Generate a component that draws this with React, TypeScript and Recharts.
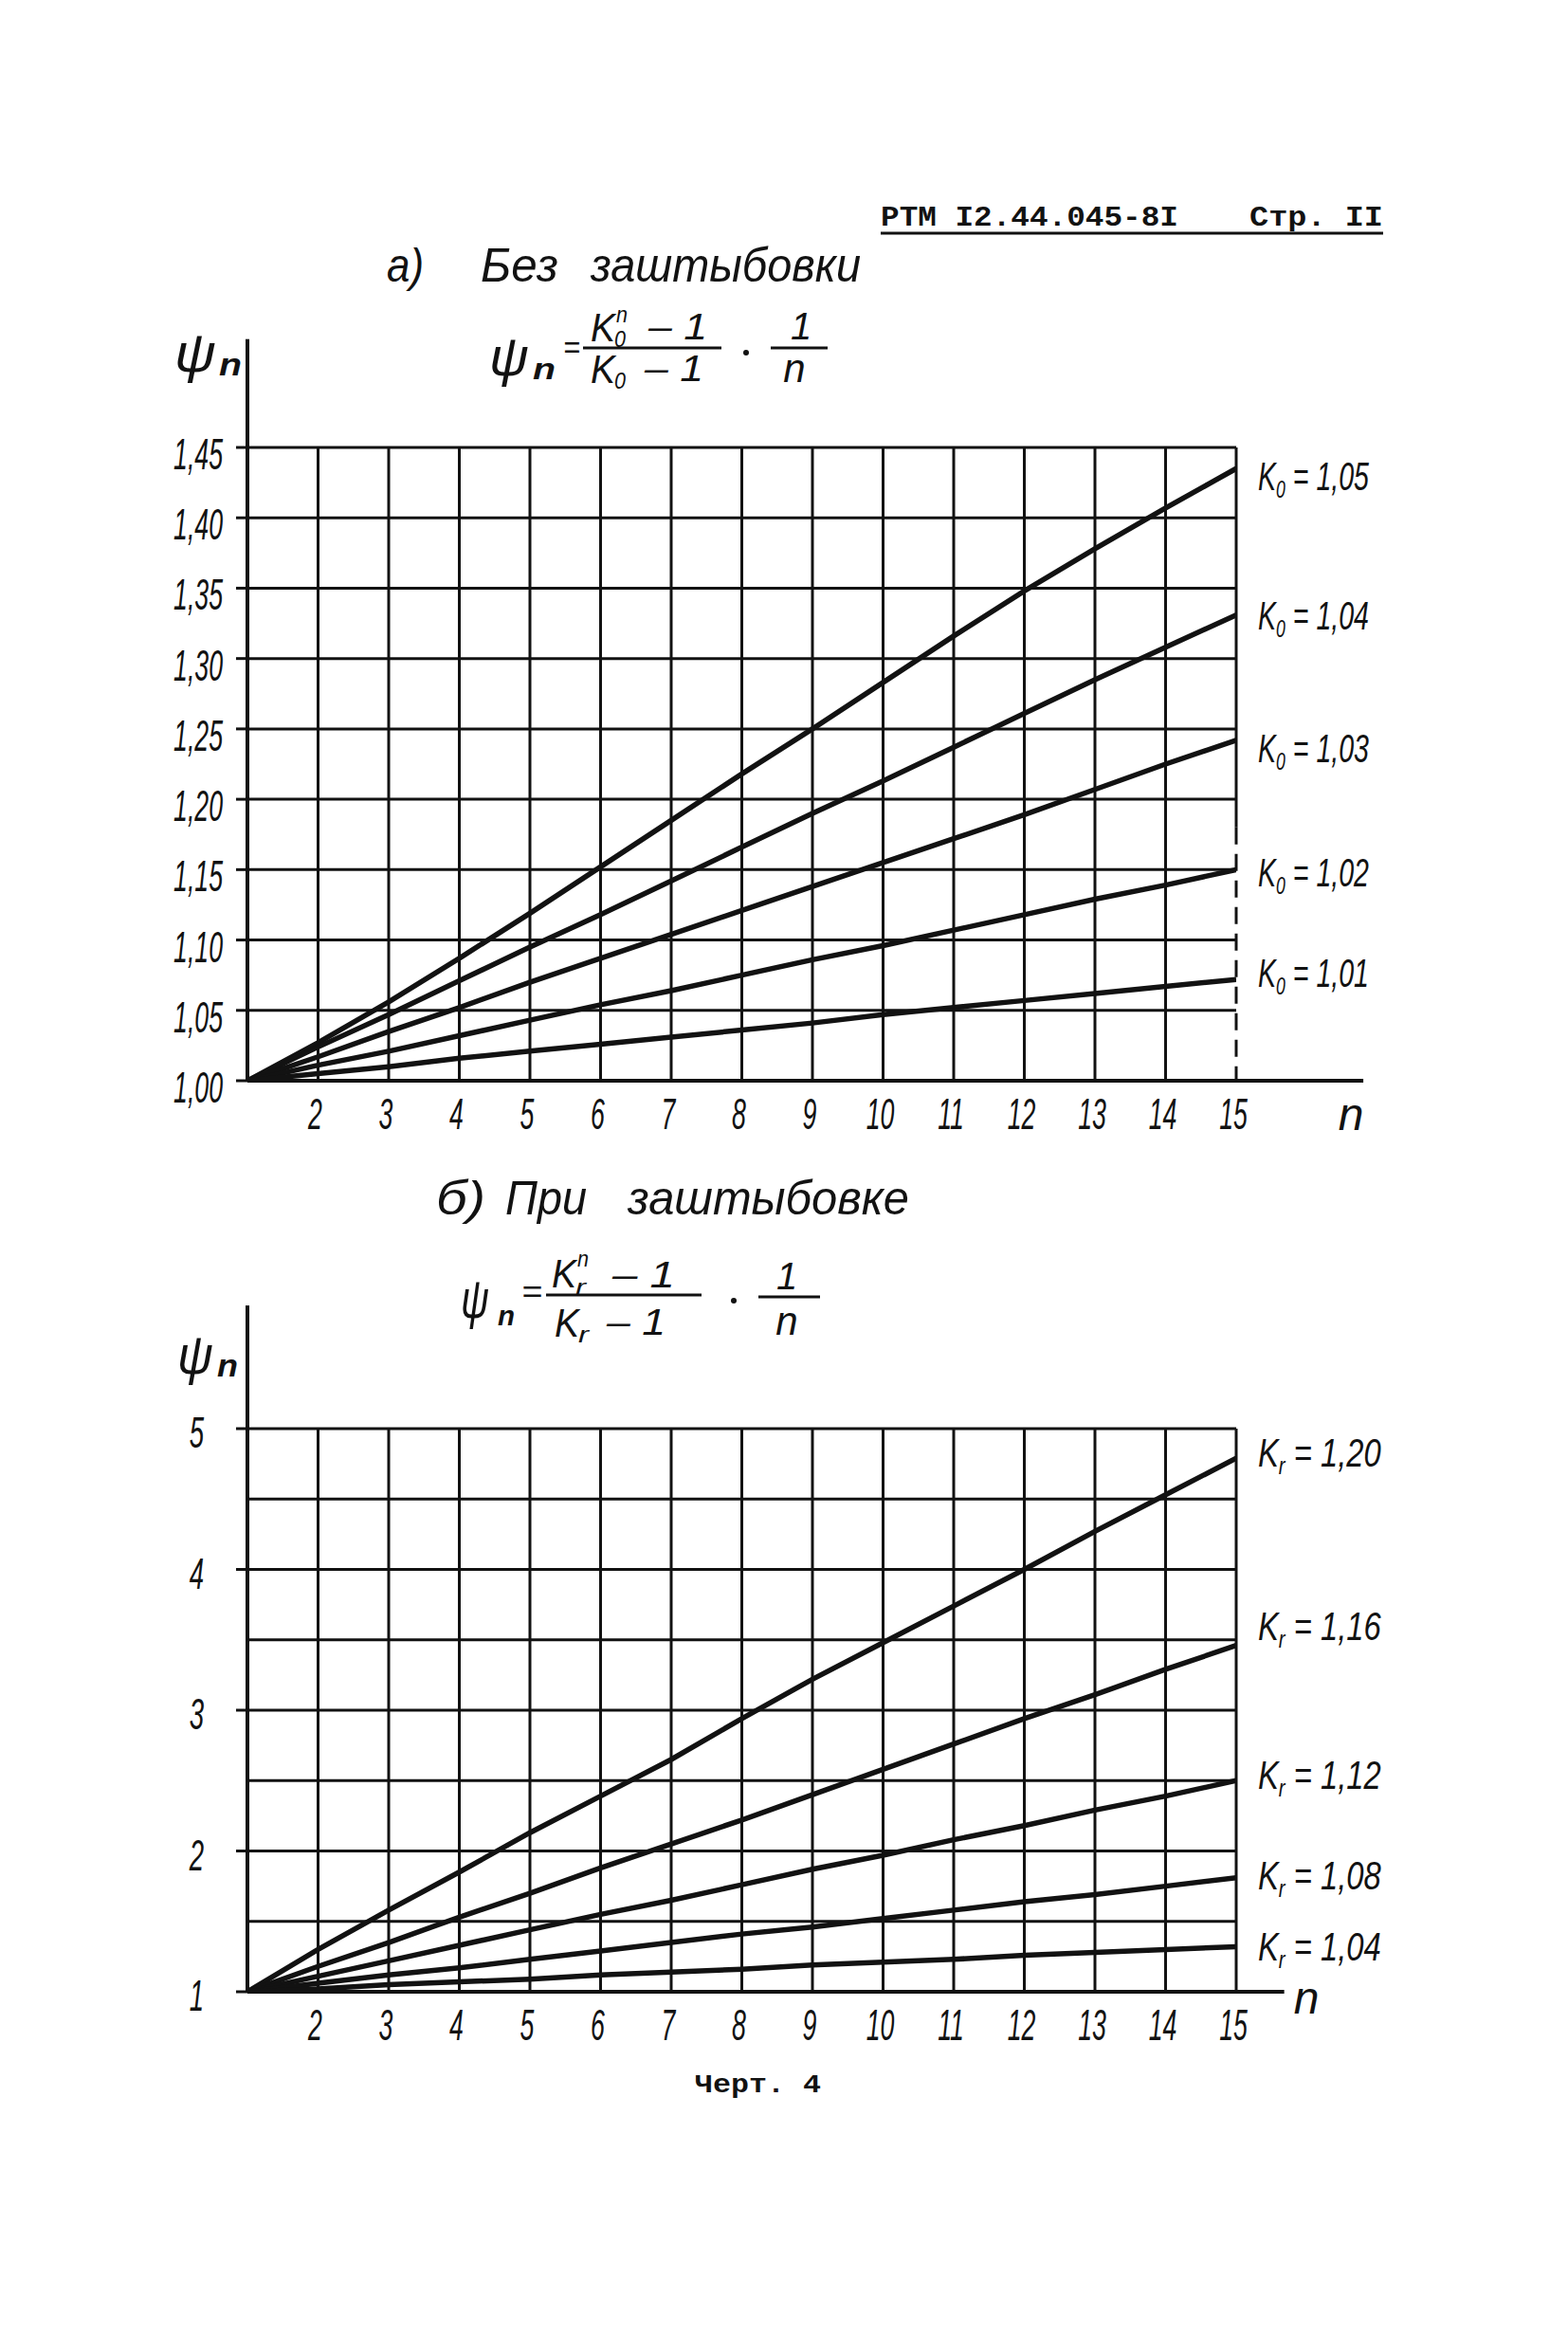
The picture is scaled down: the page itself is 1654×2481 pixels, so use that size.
import React from "react";
import { LineChart, Line, XAxis, YAxis, CartesianGrid, ReferenceLine, LabelList } from "recharts";

const INK = "#121212";
const HAND = "'Liberation Sans', Arimo, 'DejaVu Sans', sans-serif";
const TYPE = "'Liberation Mono', 'DejaVu Sans Mono', monospace";

// n = number of stages
const nValues = [1, 2, 3, 4, 5, 6, 7, 8, 9, 10, 11, 12, 13, 14, 15];
const xTicks = [2, 3, 4, 5, 6, 7, 8, 9, 10, 11, 12, 13, 14, 15];

// a) without stowing, psi_n
const yTicksTop = [1.0, 1.05, 1.1, 1.15, 1.2, 1.25, 1.3, 1.35, 1.4, 1.45];
const psiK0_105 = [1.0, 1.027, 1.056, 1.087, 1.119, 1.152, 1.185, 1.218, 1.25, 1.283, 1.316, 1.348, 1.378, 1.407, 1.435];
const psiK0_104 = [1.0, 1.024, 1.047, 1.071, 1.095, 1.118, 1.142, 1.166, 1.19, 1.213, 1.237, 1.261, 1.285, 1.308, 1.331];
const psiK0_103 = [1.0, 1.017, 1.035, 1.052, 1.07, 1.087, 1.104, 1.121, 1.138, 1.155, 1.172, 1.189, 1.207, 1.225, 1.242];
const psiK0_102 = [1.0, 1.011, 1.021, 1.032, 1.043, 1.054, 1.064, 1.075, 1.086, 1.096, 1.107, 1.118, 1.129, 1.139, 1.15];
const psiK0_101 = [1.0, 1.005, 1.01, 1.016, 1.021, 1.026, 1.031, 1.036, 1.041, 1.047, 1.052, 1.057, 1.062, 1.067, 1.072];

// б) with stowing
const yTicksBottom = [1, 1.5, 2, 2.5, 3, 3.5, 4, 4.5, 5];
const yLabelsBottom = [1, 2, 3, 4, 5];
const psiKr_120 = [1.0, 1.3, 1.58, 1.85, 2.13, 2.39, 2.65, 2.94, 3.22, 3.48, 3.74, 4.0, 4.27, 4.53, 4.79];
const psiKr_116 = [1.0, 1.18, 1.35, 1.53, 1.7, 1.88, 2.05, 2.22, 2.4, 2.58, 2.76, 2.94, 3.11, 3.29, 3.46];
const psiKr_112 = [1.0, 1.11, 1.22, 1.33, 1.44, 1.55, 1.65, 1.76, 1.87, 1.97, 2.08, 2.18, 2.29, 2.39, 2.5];
const psiKr_108 = [1.0, 1.06, 1.12, 1.17, 1.23, 1.29, 1.35, 1.41, 1.46, 1.52, 1.58, 1.64, 1.69, 1.75, 1.81];
const psiKr_104 = [1.0, 1.02, 1.05, 1.07, 1.09, 1.12, 1.14, 1.16, 1.19, 1.21, 1.23, 1.26, 1.28, 1.3, 1.32];

const topRows = nValues.map((n, i) => ({
  n,
  k105: psiK0_105[i],
  k104: psiK0_104[i],
  k103: psiK0_103[i],
  k102: psiK0_102[i],
  k101: psiK0_101[i],
}));

const bottomRows = nValues.map((n, i) => ({
  n,
  k120: psiKr_120[i],
  k116: psiKr_116[i],
  k112: psiKr_112[i],
  k108: psiKr_108[i],
  k104: psiKr_104[i],
}));

const topSeries = [
  { key: "k105", text: "1,05", dy: 8 },
  { key: "k104", text: "1,04", dy: 0 },
  { key: "k103", text: "1,03", dy: 8 },
  { key: "k102", text: "1,02", dy: 3 },
  { key: "k101", text: "1,01", dy: -7 },
];

const bottomSeries = [
  { key: "k120", text: "1,20", dy: -6 },
  { key: "k116", text: "1,16", dy: -21 },
  { key: "k112", text: "1,12", dy: -6 },
  { key: "k108", text: "1,08", dy: -3 },
  { key: "k104", text: "1,04", dy: 0 },
];

function XTick(props: any) {
  const { x, y, payload } = props;
  return (
    <g transform={`translate(${x - 3},${y + 51}) scale(0.58,1)`}>
      <text textAnchor="middle" fontSize={46} fontStyle="italic" fontFamily={HAND} fill={INK}>
        {payload.value}
      </text>
    </g>
  );
}

function YTickTop(props: any) {
  const { x, y, payload } = props;
  const label = Number(payload.value).toFixed(2).replace(".", ",");
  return (
    <g>
      <line x1={x - 12} x2={x} y1={y} y2={y} stroke={INK} strokeWidth={3} />
      <g transform={`translate(${x - 26},${y + 23}) scale(0.58,1)`}>
        <text textAnchor="end" fontSize={46} fontStyle="italic" fontFamily={HAND} fill={INK}>
          {label}
        </text>
      </g>
    </g>
  );
}

function YTickBottom(props: any) {
  const { x, y, payload } = props;
  if (!yLabelsBottom.includes(payload.value)) return null;
  return (
    <g>
      <line x1={x - 12} x2={x} y1={y} y2={y} stroke={INK} strokeWidth={3} />
      <g transform={`translate(${x - 46},${y + 20}) scale(0.6,1)`}>
        <text textAnchor="end" fontSize={46} fontStyle="italic" fontFamily={HAND} fill={INK}>
          {payload.value}
        </text>
      </g>
    </g>
  );
}

function seriesLabel(sub: string, text: string, dy: number, sx: number) {
  return (props: any) => {
    if (props.index !== nValues.length - 1) return null;
    const x = props.x ?? props.viewBox?.x;
    const y = props.y ?? props.viewBox?.y;
    return (
      <g transform={`translate(${x + 23},${y + dy + 15}) scale(${sx},1)`}>
        <text fontSize={42} fontStyle="italic" fontFamily={HAND} fill={INK}>
          K
          <tspan fontSize={26} dy={8}>{sub}</tspan>
          <tspan dy={-8}>{" = " + text}</tspan>
        </text>
      </g>
    );
  };
}

function T(props: any) {
  const { x, y, size, children, anchor, weight, len, family } = props;
  return (
    <text
      x={x}
      y={y}
      fontSize={size}
      fontStyle={family ? "normal" : "italic"}
      fontWeight={weight || "normal"}
      fontFamily={family || HAND}
      textAnchor={anchor || "start"}
      textLength={len}
      lengthAdjust={len ? "spacingAndGlyphs" : undefined}
      fill={INK}
    >
      {children}
    </text>
  );
}

function Overlay() {
  return (
    <svg
      width={1654}
      height={2481}
      style={{ position: "absolute", left: 0, top: 0, pointerEvents: "none" }}
    >
      {/* header */}
      <T x={929} y={238} size={30} weight="bold" family={TYPE} len={314}>РТМ I2.44.045-8I</T>
      <T x={1318} y={238} size={30} weight="bold" family={TYPE} len={141}>Стр. II</T>
      <line x1={929} x2={1459} y1={246} y2={246} stroke={INK} strokeWidth={3} />

      {/* title a */}
      <T x={408} y={297} size={50} len={39}>а)</T>
      <T x={507} y={297} size={50} len={82}>Без</T>
      <T x={623} y={297} size={50} len={285}>заштыбовки</T>

      {/* formula a */}
      <T x={516} y={396} size={58} len={42}>ψ</T>
      <T x={562} y={400} size={32} weight="bold" len={24}>n</T>
      <T x={594} y={378} size={34} len={18}>=</T>
      <T x={623} y={360} size={42} len={26}>K</T>
      <T x={648} y={366} size={24} len={12}>0</T>
      <T x={650} y={340} size={24} len={12}>n</T>
      <T x={684} y={358} size={38} len={62}>– 1</T>
      <line x1={615} x2={761} y1={367} y2={367} stroke={INK} strokeWidth={3} />
      <T x={623} y={404} size={42} len={26}>K</T>
      <T x={648} y={410} size={24} len={12}>0</T>
      <T x={680} y={402} size={38} len={62}>– 1</T>
      <circle cx={787} cy={372} r={3} fill={INK} />
      <T x={845} y={358} size={40} anchor="middle">1</T>
      <line x1={813} x2={873} y1={367} y2={367} stroke={INK} strokeWidth={3} />
      <T x={838} y={403} size={42} anchor="middle">n</T>

      {/* psi axis label a */}
      <T x={184} y={392} size={58} len={44}>ψ</T>
      <T x={231} y={396} size={34} weight="bold" len={24}>n</T>
      <T x={1425} y={1192} size={48} anchor="middle">n</T>

      {/* title b */}
      <T x={460} y={1281} size={50} len={52}>б)</T>
      <T x={533} y={1281} size={50} len={86}>При</T>
      <T x={662} y={1281} size={50} len={297}>заштыбовке</T>

      {/* formula b */}
      <T x={486} y={1390} size={58} len={30}>ψ</T>
      <T x={525} y={1398} size={30} weight="bold" len={18}>n</T>
      <T x={550} y={1374} size={34} len={22}>=</T>
      <T x={582} y={1358} size={42} len={26}>K</T>
      <T x={607} y={1366} size={24} len={11}>r</T>
      <T x={609} y={1336} size={24} len={12}>n</T>
      <T x={646} y={1358} size={38} len={66}>– 1</T>
      <line x1={576} x2={740} y1={1366} y2={1366} stroke={INK} strokeWidth={3} />
      <T x={585} y={1410} size={42} len={26}>K</T>
      <T x={610} y={1416} size={24} len={11}>r</T>
      <T x={640} y={1408} size={38} len={62}>– 1</T>
      <circle cx={774} cy={1372} r={3} fill={INK} />
      <T x={830} y={1360} size={40} anchor="middle">1</T>
      <line x1={800} x2={865} y1={1368} y2={1368} stroke={INK} strokeWidth={3} />
      <T x={830} y={1408} size={42} anchor="middle">n</T>

      {/* psi axis label b */}
      <T x={187} y={1449} size={58} len={38}>ψ</T>
      <T x={229} y={1452} size={34} weight="bold" len={22}>n</T>
      <T x={1378} y={2124} size={48} anchor="middle">n</T>

      <T x={733} y={2207} size={28} weight="bold" family={TYPE} len={133}>Черт. 4</T>
    </svg>
  );
}

function TopChart() {
  return (
    <div style={{ position: "absolute", left: 0, top: 0 }}>
      <LineChart
        width={1654}
        height={1250}
        data={topRows}
        margin={{ top: 472, right: 350, bottom: 50, left: 161 }}
      >
        <CartesianGrid
          stroke={INK}
          strokeWidth={3}
          verticalValues={xTicks.slice(0, -1)}
          horizontalValues={yTicksTop}
        />
        <XAxis
          type="number"
          dataKey="n"
          domain={[1, 15]}
          ticks={xTicks}
          interval={0}
          allowDataOverflow
          height={60}
          tickSize={0}
          tickMargin={0}
          tickLine={false}
          axisLine={{ stroke: INK, strokeWidth: 4 }}
          tick={<XTick />}
        />
        <YAxis
          type="number"
          domain={[1, 1.45]}
          ticks={yTicksTop}
          interval={0}
          allowDataOverflow
          width={100}
          tickSize={0}
          tickMargin={0}
          tickLine={false}
          axisLine={{ stroke: INK, strokeWidth: 4 }}
          tick={<YTickTop />}
        />
        <ReferenceLine
          segment={[{ x: 15, y: 1.45 }, { x: 15, y: 1.18 }]}
          stroke={INK}
          strokeWidth={3}
          ifOverflow="visible"
        />
        <ReferenceLine
          segment={[{ x: 15, y: 1.18 }, { x: 15, y: 1.0 }]}
          stroke={INK}
          strokeWidth={3}
          strokeDasharray="18 10"
          ifOverflow="visible"
        />
        <ReferenceLine
          segment={[{ x: 1, y: 1.45 }, { x: 1, y: 1.527 }]}
          stroke={INK}
          strokeWidth={4}
          ifOverflow="visible"
        />
        <ReferenceLine
          segment={[{ x: 15, y: 1.0 }, { x: 16.8, y: 1.0 }]}
          stroke={INK}
          strokeWidth={4}
          ifOverflow="visible"
        />
        {topSeries.map((s) => (
          <Line
            key={s.key}
            type="linear"
            dataKey={s.key}
            stroke={INK}
            strokeWidth={5.5}
            dot={false}
            isAnimationActive={false}
          >
            <LabelList dataKey={s.key} content={seriesLabel("0", s.text, s.dy, 0.68)} />
          </Line>
        ))}
      </LineChart>
    </div>
  );
}

function BottomChart() {
  return (
    <div style={{ position: "absolute", left: 0, top: 1250 }}>
      <LineChart
        width={1654}
        height={1000}
        data={bottomRows}
        margin={{ top: 257, right: 350, bottom: 89, left: 161 }}
      >
        <CartesianGrid stroke={INK} strokeWidth={3} horizontalValues={yTicksBottom} verticalValues={xTicks} />
        <XAxis
          type="number"
          dataKey="n"
          domain={[1, 15]}
          ticks={xTicks}
          interval={0}
          allowDataOverflow
          height={60}
          tickSize={0}
          tickMargin={0}
          tickLine={false}
          axisLine={{ stroke: INK, strokeWidth: 4 }}
          tick={<XTick />}
        />
        <YAxis
          type="number"
          domain={[1, 5]}
          ticks={yTicksBottom}
          interval={0}
          allowDataOverflow
          width={100}
          tickSize={0}
          tickMargin={0}
          tickLine={false}
          axisLine={{ stroke: INK, strokeWidth: 4 }}
          tick={<YTickBottom />}
        />
        <ReferenceLine
          segment={[{ x: 1, y: 5 }, { x: 1, y: 5.875 }]}
          stroke={INK}
          strokeWidth={4}
          ifOverflow="visible"
        />
        <ReferenceLine
          segment={[{ x: 15, y: 1 }, { x: 15.68, y: 1 }]}
          stroke={INK}
          strokeWidth={4}
          ifOverflow="visible"
        />
        {bottomSeries.map((s) => (
          <Line
            key={s.key}
            type="linear"
            dataKey={s.key}
            stroke={INK}
            strokeWidth={5.5}
            dot={false}
            isAnimationActive={false}
          >
            <LabelList dataKey={s.key} content={seriesLabel("r", s.text, s.dy, 0.78)} />
          </Line>
        ))}
      </LineChart>
    </div>
  );
}

export default function App() {
  return (
    <div style={{ position: "absolute", left: 0, top: 0, width: 1654, height: 2481, background: "#fff" }}>
      <TopChart />
      <BottomChart />
      <Overlay />
    </div>
  );
}
